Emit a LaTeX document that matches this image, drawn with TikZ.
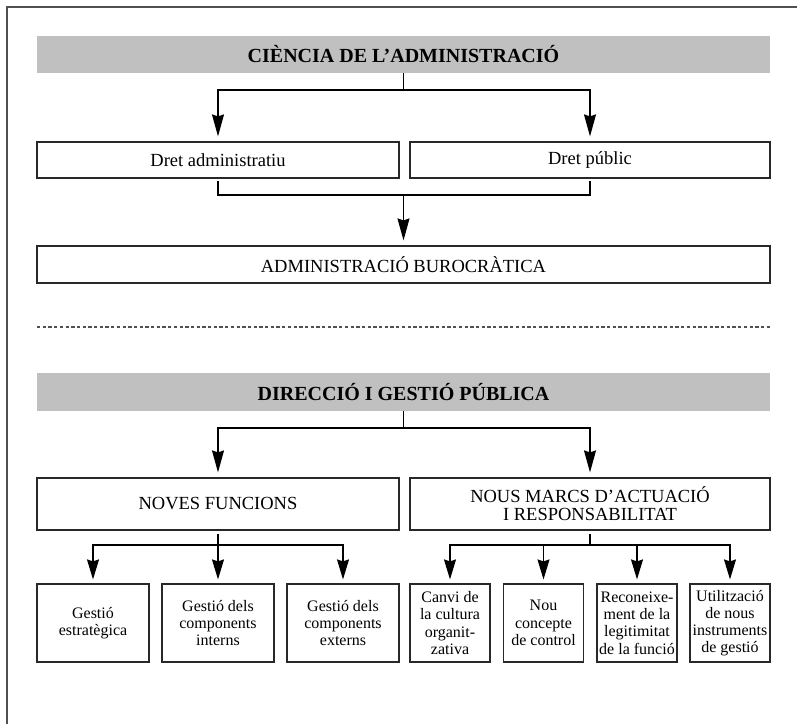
\documentclass[tikz,border=0pt]{standalone}
\usepackage{fontspec}
\setmainfont{Liberation Serif}
\usetikzlibrary{arrows.meta,calc}
\begin{document}
\begin{tikzpicture}[x=1pt,y=-1pt,
  bar/.style={fill=barfill,draw=none,minimum width=733pt,inner sep=0pt,font=\fontsize{20}{22}\selectfont\bfseries},
  box/.style={draw=boxline,line width=1.2pt,fill=white,inner sep=0pt,align=center,font=\fontsize{18.5}{18}\selectfont},
  small/.style={draw=boxline,line width=1.2pt,fill=white,inner sep=0pt,align=center,minimum height=78pt,font=\fontsize{16}{17.2}\selectfont},
  conn/.style={line width=1.3pt,draw=black},
  arr/.style={conn,-{Stealth[length=22pt,width=12pt,inset=2pt]},shorten >=5pt},
  arrs/.style={conn,-{Stealth[length=20pt,width=12pt,inset=2pt]},shorten >=4pt}
]
\definecolor{barfill}{RGB}{192,192,192}
\definecolor{boxline}{RGB}{40,40,40}
\definecolor{frameline}{RGB}{80,80,80}
\useasboundingbox (0,0) rectangle (797,724);
% frame
\draw[frameline,line width=2pt] (7,724) -- (7,7) -- (797,7);
% section 1
\node[bar,minimum height=37pt] (t1) at (403.5,54.5) {CIÈNCIA DE L’ADMINISTRACIÓ};
\node[box,minimum width=362pt,minimum height=36pt] (da) at (218,160) {Dret administratiu};
\node[box,minimum width=360pt,minimum height=36pt] (dp) at (590,160) {Dret públic};
\node[box,minimum width=733pt,minimum height=37pt] (ab) at (403.5,264.5) {ADMINISTRACIÓ BUROCRÀTICA};
\coordinate (j1) at (403.5,90);
\coordinate (j2) at (403.5,195);
\draw[conn] (t1.south) -- (j1);
\draw[arr] (j1) -| (da.north);
\draw[arr] (j1) -| (dp.north);
\draw[conn,shorten <=2pt] (da.south) |- (j2);
\draw[conn,shorten <=2pt] (dp.south) |- (j2);
\draw[arr] (j2) -- (ab.north);
% dashed separator
\coordinate (s1) at (37,327);
\coordinate (s2) at (770,327);
\draw[draw=frameline,line width=1.2pt,dash pattern=on 3.3pt off 2.4pt] (s1) -- (s2);
% section 2
\node[bar,minimum height=38pt] (t2) at (403.5,392) {DIRECCIÓ I GESTIÓ PÚBLICA};
\node[box,minimum width=362pt,minimum height=52pt] (nf) at (218,504) {NOVES FUNCIONS};
\node[box,minimum width=360pt,minimum height=52pt] (nm) at (590,504) {NOUS MARCS D’ACTUACIÓ\\I RESPONSABILITAT};
\coordinate (j3) at (403.5,428);
\draw[conn] (t2.south) -- (j3);
\draw[arr] (j3) -| (nf.north);
\draw[arr] (j3) -| (nm.north);
% noves funcions children
\node[small,minimum width=112pt] (b1) at (93,623) {Gestió\\estratègica};
\node[small,minimum width=112pt] (b2) at (218,623) {Gestió dels\\components\\interns};
\node[small,minimum width=112pt] (b3) at (343,623) {Gestió dels\\components\\externs};
\coordinate (j4) at (218,545);
\draw[conn,shorten <=3pt] (nf.south) -- (j4);
\draw[arrs] (j4) -| (b1.north);
\draw[arrs] (j4) -- (b2.north);
\draw[arrs] (j4) -| (b3.north);
% nous marcs children
\node[small,minimum width=80pt] (c1) at (450,623) {Canvi de\\la cultura\\organit-\\zativa};
\node[small,minimum width=80pt] (c2) at (543.5,623) {Nou\\concepte\\de control};
\node[small,minimum width=80pt] (c3) at (637,623) {Reconeixe-\\ment de la\\legitimitat\\de la funció};
\node[small,minimum width=80pt] (c4) at (730,623) {Utilització\\de nous\\instruments\\de gestió};
\coordinate (j5) at (590,545);
\draw[conn,shorten <=3pt] (nm.south) -- (j5);
\draw[arrs] (j5) -| (c1.north);
\draw[arrs] (j5) -| (c2.north);
\draw[arrs] (j5) -| (c3.north);
\draw[arrs] (j5) -| (c4.north);
\end{tikzpicture}
\end{document}
